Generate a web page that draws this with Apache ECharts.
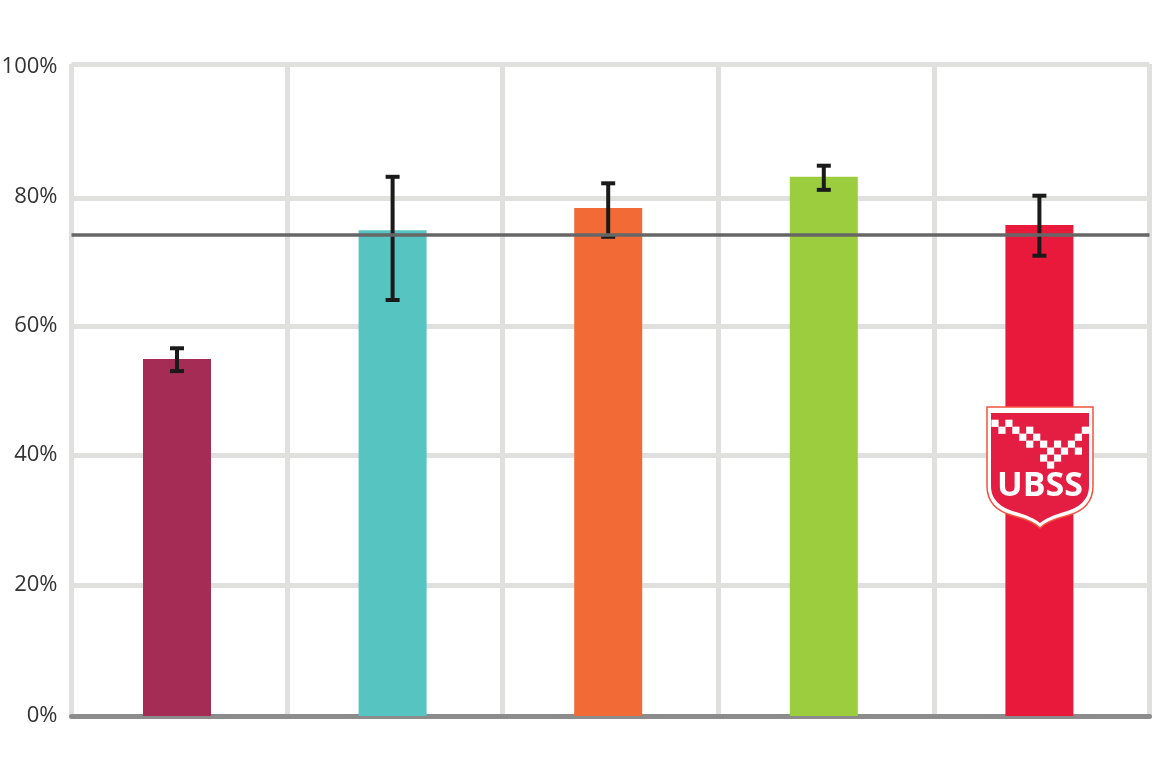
<!DOCTYPE html>
<html><head><meta charset="utf-8">
<style>html,body{margin:0;padding:0;background:#fff}#c{width:1160px;height:766px}</style>
<script src="https://cdn.jsdelivr.net/npm/echarts@6/dist/echarts.min.js"></script>
</head><body><div id="c"></div>
<script>
const categories = ['1','2','3','4','5'];
const values = [54.75, 74.5, 77.9, 82.7, 75.3];
const errorHigh = [56.4, 82.7, 81.7, 84.4, 79.8];
const errorLow = [52.9, 63.8, 73.5, 80.7, 70.6];
const barColors = ['#a52c54', '#56c4c1', '#f26b36', '#9ccd3e', '#e9193c'];
const referenceValue = [73.8];
const logoText = 'UBSS';
const logoRows = [[0,2],[1,3,5,13],[4,6,12],[5,7,9,11],[8,10,12],[7,9],[8]];

const shieldChildren = [
  {type:'path',shape:{pathData:'M987 407H1093V486C1093 503 1082 512 1066 516C1054 519 1045 523 1040 528C1035 523 1026 519 1014 516C998 512 987 503 987 486Z',layout:'cover',x:987,y:407,width:106,height:121},style:{fill:'#fff',stroke:'#f4513f',lineWidth:1.5}},
  {type:'path',shape:{pathData:'M991 413H1089V486C1089 500 1079 508 1064 512C1053 515 1045 519 1040 523C1035 519 1027 515 1016 512C1001 508 991 500 991 486Z',layout:'cover',x:991,y:413,width:98,height:110},style:{fill:'#e31e42'}}
];
logoRows.forEach((cols, r) => cols.forEach(c => shieldChildren.push({
  type:'rect',shape:{x:995+c*6.95-3.6,y:423.3+r*6.95-3.6,width:7.2,height:7.2},style:{fill:'#fff'}
})));
shieldChildren.push({type:'text',style:{text:logoText,x:1040,y:486,align:'center',verticalAlign:'middle',fill:'#fff',font:'700 34px "Open Sans"'}});

const barShift = -2.3;
// The reference's gridlines are not quite evenly spaced; tick placement follows the picture.
const gridTicks = [0, 20.1, 40, 59.8, 79.45, 100];
const labelTicks = [0, 20.1, 40, 59.9, 79.6, 99.6];

const chart = echarts.init(document.getElementById('c'), null, {renderer:'canvas'});
chart.setOption({
  animation:false,
  backgroundColor:'#fff',
  grid:{left:71.5,right:10.5,top:64,bottom:50,outerBoundsMode:'none'},
  xAxis:{type:'category',data:categories,
    axisLine:{lineStyle:{color:'#8c8c8c',width:5}},axisTick:{show:false},axisLabel:{show:false},
    splitLine:{show:true,lineStyle:{color:'#e0e0de',width:5}}},
  yAxis:{type:'value',min:0,max:100,
    axisLine:{show:false},axisTick:{show:false,customValues:gridTicks},
    axisLabel:{customValues:labelTicks,formatter:v=>Math.round(v/20)*20+'%',color:'#333',fontFamily:'"Open Sans"',fontSize:22,margin:14},
    splitLine:{lineStyle:{color:'#e0e0de',width:5}}},
  series:[
    {type:'line',z:1,data:[],silent:true,
      markLine:{silent:true,symbol:'none',label:{show:false},lineStyle:{color:'#666',width:3.5,type:'solid'},
        data:[{yAxis:referenceValue[0]}]}},
    {type:'bar',z:2,barWidth:68,barGap:0,data:values.map((v,i)=>({value:v,itemStyle:{color:barColors[i]}}))},
    {type:'bar',z:2,barWidth:-2*barShift,barGap:0,data:[]},
    {type:'custom',z:3,data:categories.map((c,i)=>[i,errorLow[i],errorHigh[i]]),
      encode:{x:0,y:[1,2]},
      renderItem:(p,api)=>{
        const lo=api.coord([api.value(0),api.value(1)]),hi=api.coord([api.value(0),api.value(2)]);
        const x=lo[0]+barShift;
        const st={stroke:'#1a1a1a',lineWidth:4,fill:'none'};
        return {type:'group',children:[
          {type:'line',shape:{x1:x,y1:lo[1],x2:x,y2:hi[1]},style:st},
          {type:'line',shape:{x1:x-7,y1:lo[1],x2:x+7,y2:lo[1]},style:st},
          {type:'line',shape:{x1:x-7,y1:hi[1],x2:x+7,y2:hi[1]},style:st}
        ]};
      }},
    {type:'custom',z:20,silent:true,data:[[4,40]],encode:{x:0,y:1},
      renderItem:()=>({type:'group',children:shieldChildren})}
  ]
});
</script></body></html>
